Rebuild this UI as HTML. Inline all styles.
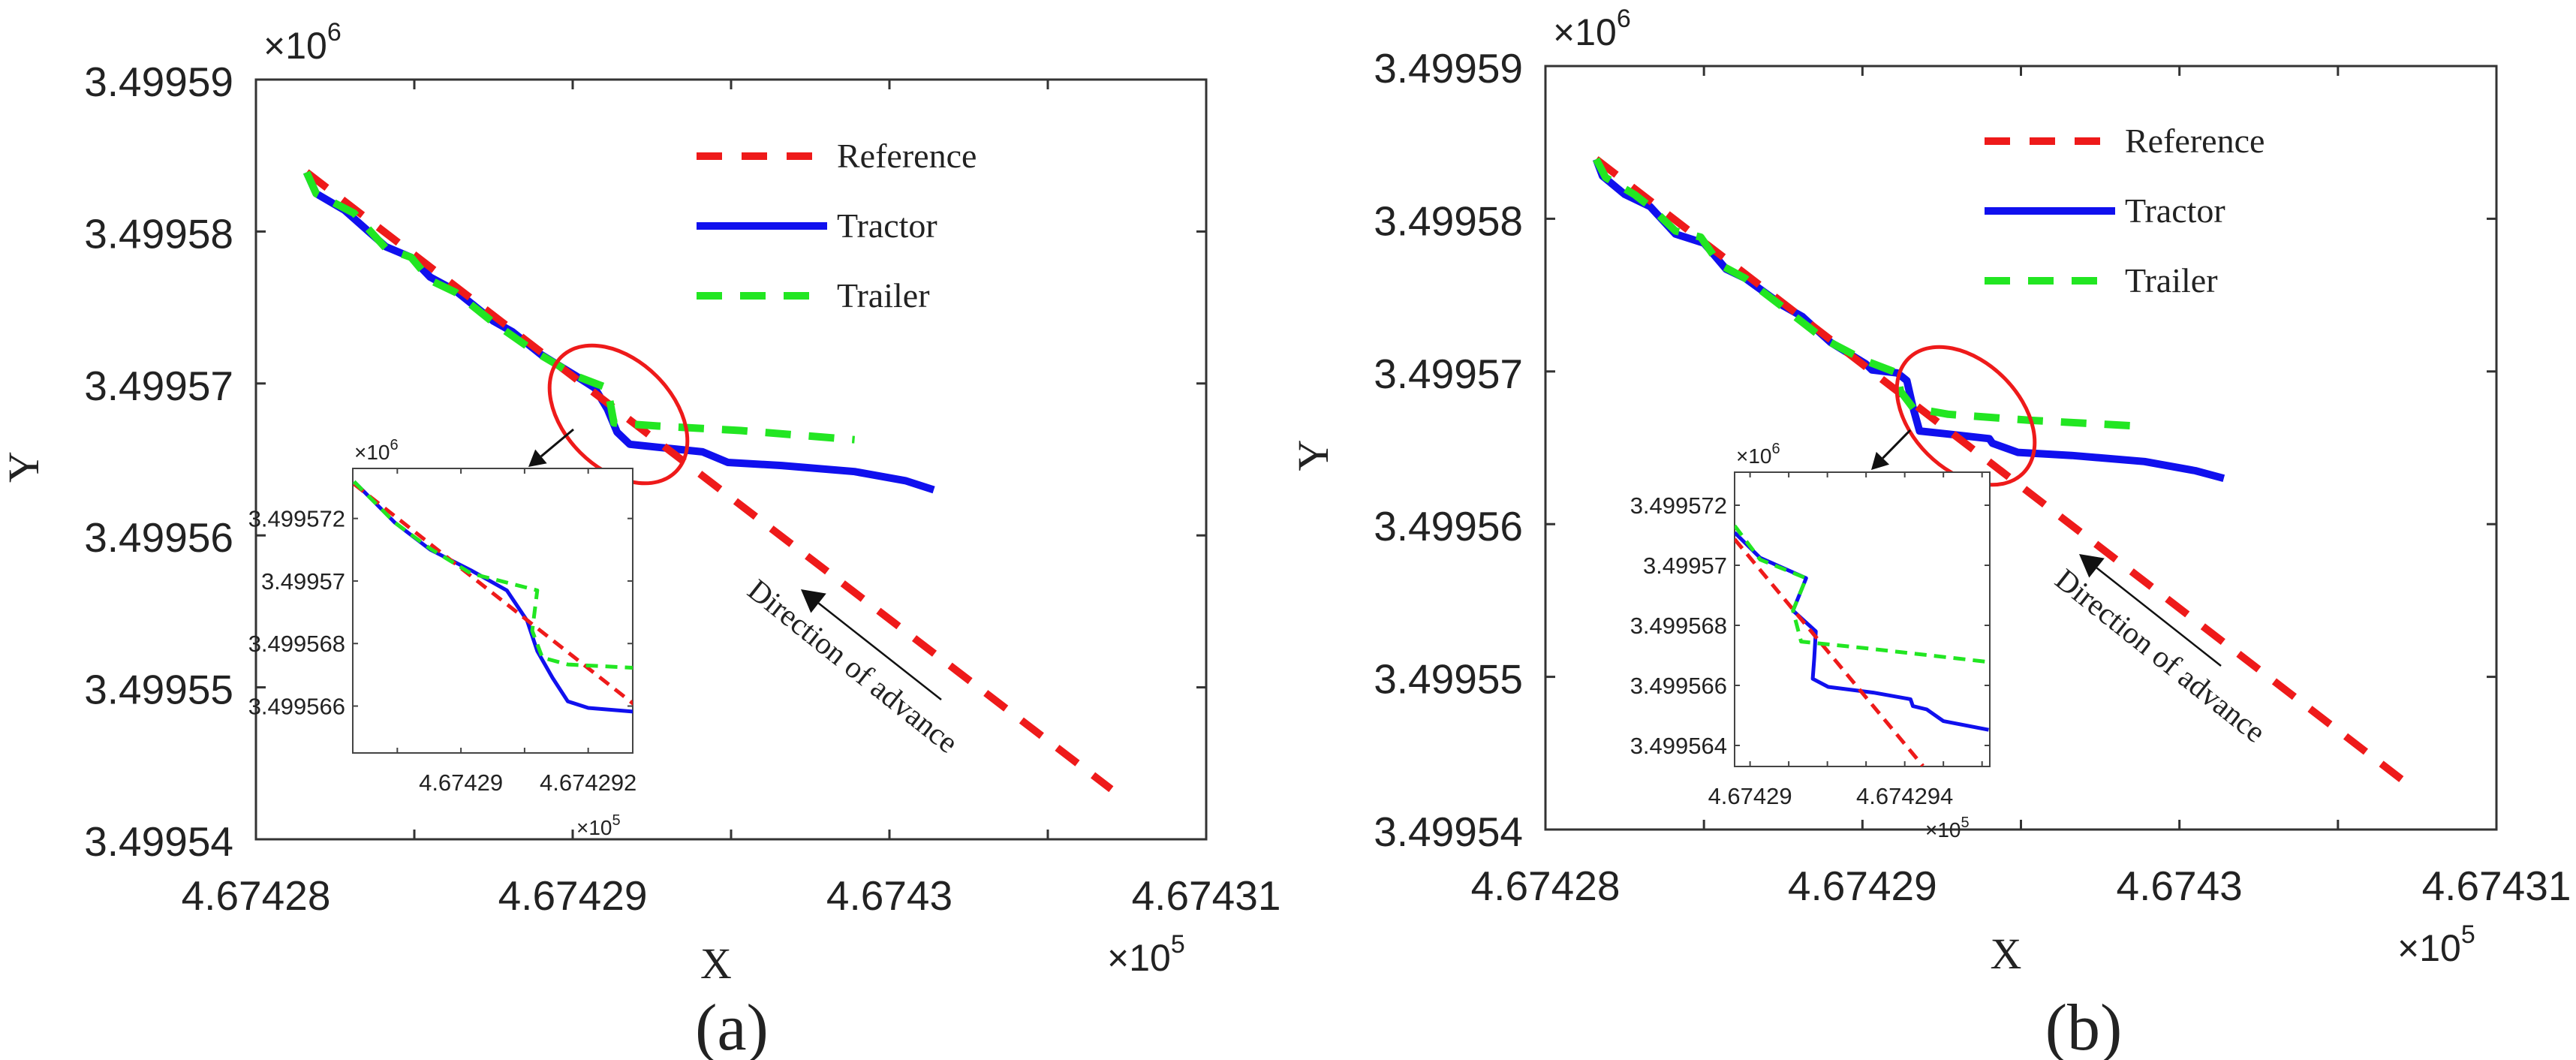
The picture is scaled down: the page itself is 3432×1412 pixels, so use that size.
<!DOCTYPE html>
<html><head><meta charset="utf-8"><style>
html,body{margin:0;padding:0;background:#fff;}
svg{display:block;}
</style></head><body>
<svg id="fig" width="3432" height="1412" viewBox="0 0 3432 1412" xmlns="http://www.w3.org/2000/svg"></svg>
<script>
// ---------- data ----------
// Panel (a) main
const aRefX = [4.6742816, 4.6743070];
const aRefY = [3.4995839, 3.4995433];
const aTracX = [4.6742816,4.6742819,4.6742828,4.6742841,4.6742849,4.6742855,4.6742863,4.6742875,4.6742881,4.6742890,4.6742901,4.6742907,4.6742911,4.6742914,4.6742918,4.6742927,4.6742941,4.6742949,4.6742966,4.6742989,4.6743005,4.6743014];
const aTracY = [3.4995839,3.4995825,3.4995814,3.4995790,3.4995783,3.4995770,3.4995761,3.4995741,3.4995734,3.4995719,3.4995705,3.4995697,3.4995683,3.4995668,3.4995660,3.4995658,3.4995655,3.4995648,3.4995646,3.4995642,3.4995636,3.4995630];
const aTrailX = [4.6742816,4.6742819,4.6742831,4.6742841,4.6742849,4.6742855,4.6742863,4.6742875,4.6742888,4.6742901,4.6742911,4.6742913,4.6742927,4.6742953,4.6742989];
const aTrailY = [3.4995839,3.4995825,3.4995812,3.4995789,3.4995783,3.4995768,3.4995760,3.4995740,3.4995721,3.4995705,3.4995697,3.4995674,3.4995672,3.4995669,3.4995663];
// Panel (a) inset
const aiRefX = [4.67428832, 4.6742936];
const aiRefY = [3.4995731, 3.49956465];
const aiTracX = [4.67428832,4.67428896,4.67428952,4.67429016,4.67429072,4.67429104,4.6742912,4.67429144,4.67429168,4.674292,4.67429296,4.6742937];
const aiTracY = [3.49957318,3.49957187,3.4995710,3.49957034,3.4995697,3.49956873,3.49956776,3.4995669,3.49956615,3.49956594,3.49956578,3.49956561];
const aiTrailX = [4.67428832,4.67428896,4.67428952,4.67429016,4.6742912,4.67429112,4.67429128,4.67429168,4.67429264,4.6742937];
const aiTrailY = [3.49957318,3.49957187,3.49957103,3.49957024,3.4995697,3.49956841,3.49956755,3.49956733,3.49956723,3.49956712];
// Panel (b) main
const bRefX = [4.6742816, 4.6743070];
const bRefY = [3.4995839, 3.4995433];
const bTracX = [4.6742816,4.6742818,4.6742825,4.6742833,4.6742841,4.6742850,4.6742857,4.6742863,4.6742875,4.6742881,4.6742890,4.6742901,4.6742903,4.6742911,4.6742914,4.6742916,4.6742918,4.6742927,4.6742940,4.6742941,4.6742949,4.6742966,4.6742989,4.6743005,4.6743014];
const bTracY = [3.4995839,3.4995828,3.4995816,3.4995808,3.4995790,3.4995784,3.4995767,3.4995761,3.4995743,3.4995736,3.4995719,3.4995705,3.4995701,3.4995699,3.4995694,3.4995676,3.4995661,3.4995659,3.4995656,3.4995653,3.4995647,3.4995645,3.4995641,3.4995635,3.4995630];
const bTrailX = [4.6742816,4.6742819,4.6742828,4.6742833,4.6742841,4.6742849,4.6742855,4.6742863,4.6742875,4.6742888,4.6742901,4.6742911,4.6742912,4.6742916,4.6742927,4.6742953,4.6742989];
const bTrailY = [3.4995839,3.4995827,3.4995816,3.4995808,3.4995792,3.4995788,3.4995770,3.4995761,3.4995742,3.4995721,3.4995707,3.4995699,3.4995687,3.4995676,3.4995672,3.4995668,3.4995664];
// Panel (b) inset
const biRefX = [4.6742896, 4.67429447];
const biRefY = [3.49957087, 3.49956332];
const biTracX = [4.6742896,4.67429026,4.67429145,4.67429111,4.6742917,4.67429166,4.67429162,4.67429202,4.67429319,4.67429415,4.67429421,4.67429457,4.674295,4.67429617];
const biTracY = [3.49957109,3.49957025,3.49956957,3.49956849,3.4995678,3.4995669,3.49956622,3.49956595,3.49956576,3.49956554,3.49956531,3.4995652,3.49956481,3.49956452];
const biTrailX = [4.6742896,4.67429026,4.67429145,4.67429111,4.67429132,4.67429298,4.67429617];
const biTrailY = [3.49957132,3.49957019,3.49956957,3.49956849,3.49956746,3.49956724,3.49956678];
// tick labels
const mainXTickVals = [4.67428,4.67429,4.6743,4.67431];
const mainXTickLabels = ["4.67428","4.67429","4.6743","4.67431"];
const mainYTickVals = [3.49959,3.49958,3.49957,3.49956,3.49955,3.49954];
const mainYTickLabels = ["3.49959","3.49958","3.49957","3.49956","3.49955","3.49954"];
const aiXTickLabels = ["4.67429","4.674292"];
const aiXTickVals = [4.67429,4.674292];
const aiYTickLabels = ["3.499572","3.49957","3.499568","3.499566"];
const aiYTickVals = [3.499572,3.49957,3.499568,3.499566];
const biXTickLabels = ["4.67429","4.674294"];
const biXTickVals = [4.67429,4.674294];
const biYTickLabels = ["3.499572","3.49957","3.499568","3.499566","3.499564"];
const biYTickVals = [3.499572,3.49957,3.499568,3.499566,3.499564];
const legendLabels = ["Reference","Tractor","Trailer"];

// ---------- drawing ----------
const NS = "http://www.w3.org/2000/svg";
const svg = document.getElementById('fig');
function mk(tag, attrs, parent){
  const e = document.createElementNS(NS, tag);
  for (const k in attrs) e.setAttribute(k, attrs[k]);
  (parent||svg).appendChild(e);
  return e;
}
function scales(box, dom){
  return {
    sx: v => box.x0 + (v - dom.xmin)/(dom.xmax - dom.xmin)*(box.x1 - box.x0),
    sy: v => box.y1 - (v - dom.ymin)/(dom.ymax - dom.ymin)*(box.y1 - box.y0)
  };
}
function line(g, s, xs, ys, color, w, dash, name){
  let d = '';
  xs.forEach((x,i)=>{ d += (i?'L':'M') + s.sx(x).toFixed(1) + ' ' + s.sy(ys[i]).toFixed(1); });
  const p = mk('path', {d:d, fill:'none', stroke:color, 'stroke-width':w, 'stroke-linejoin':'round', 'stroke-dasharray':dash||'none'}, g);
  
  
  return p;
}
function txt(g, x, y, str, size, family, anchor, name, extra){
  const t = mk('text', Object.assign({x:x, y:y, 'font-size':size, 'font-family':family, 'text-anchor':anchor||'start', fill:'#222'}, extra||{}), g);
  t.textContent = str;
  
  
  return t;
}
const SANS = '"Liberation Sans", Arial, sans-serif';
const SERIF = '"Liberation Serif", "Times New Roman", serif';

function panel(cfg){
  const g = mk('g', {});
  
  
  const box = cfg.box;
  const dom = {xmin:4.67428, xmax:4.67431, ymin:3.49954, ymax:3.49959};
  const s = scales(box, dom);
  const fr = mk('rect', {x:box.x0, y:box.y0, width:box.x1-box.x0, height:box.y1-box.y0, fill:'none', stroke:'#333', 'stroke-width':3}, g);
  
  
  for (let i=0;i<=6;i++){
    const v = dom.xmin + i*0.000005;
    const x = s.sx(v);
    const t1 = mk('line', {x1:x, x2:x, y1:box.y1, y2:box.y1-13, stroke:'#333','stroke-width':3}, g);
     
    const t2 = mk('line', {x1:x, x2:x, y1:box.y0, y2:box.y0+13, stroke:'#333','stroke-width':3}, g);
     
  }
  mainXTickVals.forEach((v,i)=> txt(g, s.sx(v), box.y1+94, mainXTickLabels[i], 55, SANS, 'middle', 'x-tick-label'));
  mainYTickVals.forEach((v,i)=>{
    const y = s.sy(v);
    const t1 = mk('line', {x1:box.x0, x2:box.x0+13, y1:y, y2:y, stroke:'#333','stroke-width':3}, g);
     
    const t2 = mk('line', {x1:box.x1, x2:box.x1-13, y1:y, y2:y, stroke:'#333','stroke-width':3}, g);
     
    txt(g, box.x0-30, y+22, mainYTickLabels[i], 55, SANS, 'end', 'y-tick-label');
  });
  const e6 = txt(g, box.x0+10, box.y0-28, '×10', 50, SANS, 'start', 'y-exponent');
  const sup6 = mk('tspan', {dy:-24, 'font-size':34}, e6); sup6.textContent='6';
  const e5 = txt(g, box.x1-132, box.y1+175, '×10', 50, SANS, 'start', 'x-exponent');
  const sup5 = mk('tspan', {dy:-24, 'font-size':34}, e5); sup5.textContent='5';
  txt(g, box.x0+(box.x1-box.x0)*0.5-20, box.y1+185, 'X', 58, SERIF, 'middle', 'x-axis-title');
  txt(g, 0, 0, 'Y', 58, SERIF, 'middle', 'y-axis-title', {transform:`translate(${box.x0-290},${(box.y0+box.y1)/2+10}) rotate(-90)`});
  txt(g, cfg.capX, 1398, cfg.caption, 88, SERIF, 'middle', 'panel-caption');
  line(g, s, cfg.tracX, cfg.tracY, '#1010ee', 10, null, 'tractor-line');
  line(g, s, cfg.refX, cfg.refY, '#ee1a1a', 10, '34 26', 'reference-line');
  line(g, s, cfg.trailX, cfg.trailY, '#22e622', 10, '34 24', 'trailer-line');
  const L = cfg.legend;
  const lg = mk('g', {}, g);
   
  const styles = [['#ee1a1a','34 26'],['#1010ee',null],['#22e622','34 24']];
  legendLabels.forEach((lab,i)=>{
    const y = L.y + i*93;
    const ln = mk('line', {x1:L.x, x2:L.x+174, y1:y, y2:y, stroke:styles[i][0], 'stroke-width':10, 'stroke-dasharray':styles[i][1]||'none'}, lg);
     
    txt(lg, L.x+187, y+15, lab, 46, SERIF, 'start', 'legend-label-'+lab.toLowerCase());
  });
  const el = mk('ellipse', {cx:cfg.ell[0], cy:cfg.ell[1], rx:108, ry:72, fill:'none', stroke:'#ee1a1a', 'stroke-width':5, transform:`rotate(45 ${cfg.ell[0]} ${cfg.ell[1]})`}, g);
   
  arrow(g, cfg.ptr, 3, 22, 'inset-pointer-arrow');
  arrow(g, cfg.dirArrow, 2.5, 30, 'direction-arrow');
  txt(g, 0, 0, 'Direction of advance', 41, SERIF, 'middle', 'direction-label', {transform:`translate(${cfg.dirText[0]},${cfg.dirText[1]}) rotate(38.5)`});
  const I = cfg.inset;
  const ig = mk('g', {}, g);
   
  const ib = mk('rect', {x:I.box.x0, y:I.box.y0, width:I.box.x1-I.box.x0, height:I.box.y1-I.box.y0, fill:'#fff', stroke:'#444', 'stroke-width':2}, ig);
   
  const is = scales(I.box, I.dom);
  const cid = 'clip'+cfg.caption.replace(/\W/g,'');
  const cp = mk('clipPath', {id:cid}, ig);
  mk('rect', {x:I.box.x0, y:I.box.y0, width:I.box.x1-I.box.x0, height:I.box.y1-I.box.y0}, cp);
  const idg = mk('g', {'clip-path':`url(#${cid})`}, ig);
   
  line(idg, is, I.tracX, I.tracY, '#1010ee', 5, null, 'inset-tractor-line');
  line(idg, is, I.refX, I.refY, '#ee1a1a', 5, '16 10', 'inset-reference-line');
  line(idg, is, I.trailX, I.trailY, '#22e622', 5, '16 10', 'inset-trailer-line');
  for (let v = Math.ceil(I.dom.xmin*1e6)/1e6; v <= I.dom.xmax; v += 0.000001){
    const x = is.sx(v);
    const t = mk('line', {x1:x,x2:x,y1:I.box.y1,y2:I.box.y1-7,stroke:'#444','stroke-width':2}, ig);
     
    const t2 = mk('line', {x1:x,x2:x,y1:I.box.y0,y2:I.box.y0+7,stroke:'#444','stroke-width':2}, ig);
     
  }
  I.xv.forEach((v,i)=> txt(ig, is.sx(v), I.box.y1+50, I.xl[i], 31, SANS, 'middle', 'inset-x-tick-label'));
  I.yv.forEach((v,i)=>{
    const y = is.sy(v);
    const t = mk('line', {x1:I.box.x0,x2:I.box.x0+7,y1:y,y2:y,stroke:'#444','stroke-width':2}, ig);
     
    const t2 = mk('line', {x1:I.box.x1,x2:I.box.x1-7,y1:y,y2:y,stroke:'#444','stroke-width':2}, ig);
     
    txt(ig, I.box.x0-10, y+11, I.yl[i], 31, SANS, 'end', 'inset-y-tick-label');
  });
  const ie6 = txt(ig, I.box.x0+2, I.box.y0-12, '×10', 28, SANS, 'start', 'inset-y-exponent');
  const ie6s = mk('tspan', {dy:-13,'font-size':20}, ie6); ie6s.textContent='6';
  const ie5 = txt(ig, I.e5[0], I.e5[1], '×10', 28, SANS, 'start', 'inset-x-exponent');
  const ie5s = mk('tspan', {dy:-13,'font-size':20}, ie5); ie5s.textContent='5';
}
function arrow(g, p, w, head, name){
  const [x1,y1,x2,y2] = p;
  const ang = Math.atan2(y2-y1, x2-x1);
  const bx = x2 - head*Math.cos(ang), by = y2 - head*Math.sin(ang);
  const l = mk('line', {x1:x1,y1:y1,x2:bx,y2:by,stroke:'#111','stroke-width':w}, g);
   
  const hw = head*0.55, nx = -Math.sin(ang), ny = Math.cos(ang);
  const h = mk('polygon', {points:`${x2},${y2} ${bx+nx*hw},${by+ny*hw} ${bx-nx*hw},${by-ny*hw}`, fill:'#111'}, g);
   
}

panel({name:'panel-a', caption:'(a)', capX:975,
  box:{x0:341, x1:1607, y0:106, y1:1118},
  refX:aRefX, refY:aRefY, tracX:aTracX, tracY:aTracY, trailX:aTrailX, trailY:aTrailY,
  legend:{x:928, y:208}, ell:[824,552], ptr:[764,572,704,622],
  dirArrow:[1254,932,1067,785], dirText:[1128,898],
  inset:{box:{x0:470,x1:843,y0:624,y1:1003},
    dom:{xmin:4.6742883, xmax:4.6742927, ymin:3.4995645, ymax:3.4995736},
    refX:aiRefX, refY:aiRefY, tracX:aiTracX, tracY:aiTracY, trailX:aiTrailX, trailY:aiTrailY,
    xv:aiXTickVals, xl:aiXTickLabels, yv:aiYTickVals, yl:aiYTickLabels, e5:[768,1112]}
});
panel({name:'panel-b', caption:'(b)', capX:2776,
  box:{x0:2059, x1:3326, y0:88, y1:1105},
  refX:bRefX, refY:bRefY, tracX:bTracX, tracY:bTracY, trailX:bTrailX, trailY:bTrailY,
  legend:{x:2644, y:188}, ell:[2619,554], ptr:[2545,573,2493,626],
  dirArrow:[2959,887,2770,738], dirText:[2870,884],
  inset:{box:{x0:2311,x1:2651,y0:629,y1:1021},
    dom:{xmin:4.6742896, xmax:4.6742962, ymin:3.4995633, ymax:3.4995731},
    refX:biRefX, refY:biRefY, tracX:biTracX, tracY:biTracY, trailX:biTrailX, trailY:biTrailY,
    xv:biXTickVals, xl:biXTickLabels, yv:biYTickVals, yl:biYTickLabels, e5:[2565,1115]}
});
</script>
</body></html>
